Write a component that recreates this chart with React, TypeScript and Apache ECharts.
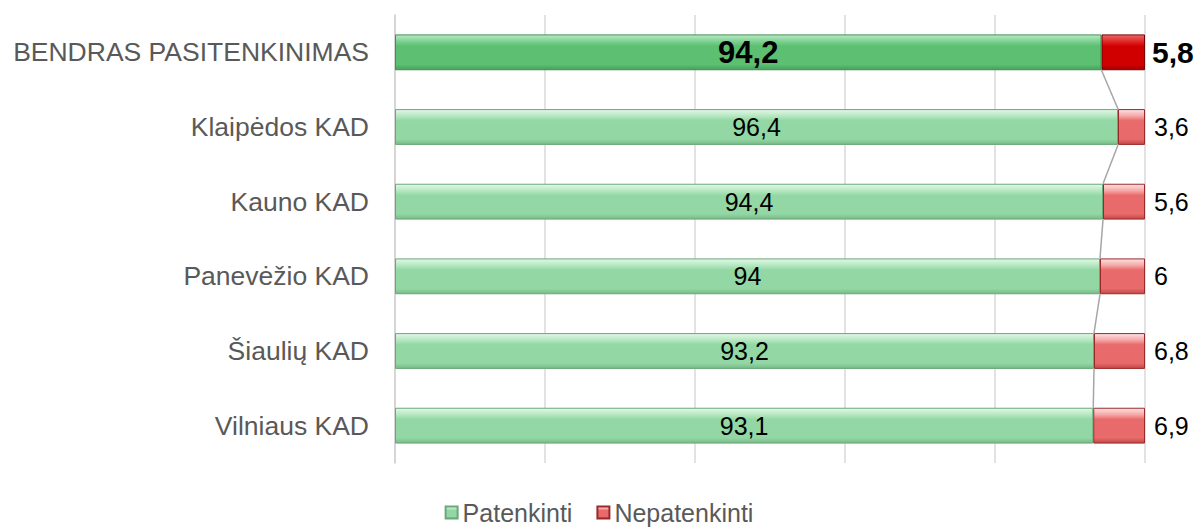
import React, { useEffect, useRef } from "react";
import * as echarts from "echarts";

const categories = [
  "BENDRAS PASITENKINIMAS",
  "Klaipėdos KAD",
  "Kauno KAD",
  "Panevėžio KAD",
  "Šiaulių KAD",
  "Vilniaus KAD",
];
const satisfied = [94.2, 96.4, 94.4, 94, 93.2, 93.1];
const unsatisfied = [5.8, 3.6, 5.6, 6, 6.8, 6.9];
const seriesNames = ["Patenkinti", "Nepatenkinti"];
const xTicks = [0, 20, 40, 60, 80, 100];

const FONT = "'Liberation Sans', Arial, sans-serif";
const BAR_RATIO = 0.48;

const grad = (top: string, light: string, body: string, bottom: string) =>
  new echarts.graphic.LinearGradient(0, 0, 0, 1, [
    { offset: 0, color: top },
    { offset: 0.18, color: light },
    { offset: 0.32, color: body },
    { offset: 0.85, color: body },
    { offset: 1, color: bottom },
  ]);

const fmt = (v: number) => String(v).replace(".", ",");

export default function App() {
  const ref = useRef<HTMLDivElement>(null);
  useEffect(() => {
    if (!ref.current) return;
    const chart = echarts.init(ref.current, undefined, { renderer: "svg" });

    const greenLight = grad("#e2f8e6", "#b6e8c2", "#93d8a4", "#78b988");
    const greenDark = grad("#b9ebc4", "#7fd293", "#5cbf72", "#46a05c");
    const redLight = grad("#fde2e2", "#f5a9a9", "#e86a6a", "#c24848");
    const redDark = grad("#f06868", "#e02a2a", "#d10000", "#a00000");

    const greenData = satisfied.map((v, i) => ({
      value: v,
      itemStyle: i === 0 ? { color: greenDark, borderColor: "#3f8f52" } : undefined,
      label:
        i === 0
          ? { fontWeight: "bold" as const, fontSize: 31 }
          : undefined,
    }));
    const redData = unsatisfied.map((v, i) => ({
      value: v,
      itemStyle: i === 0 ? { color: redDark, borderColor: "#7a0000" } : undefined,
      label:
        i === 0
          ? { fontWeight: "bold" as const, fontSize: 30, distance: 7 }
          : undefined,
    }));

    const lineData = satisfied.slice(0, -1).map((v, i) => [v, i, satisfied[i + 1], i + 1]);

    chart.setOption({
      animation: false,
      textStyle: { fontFamily: FONT },
      grid: { left: 395, right: 53, top: 15, bottom: 64, containLabel: false },
      legend: {
        bottom: -3,
        left: "center",
        data: seriesNames,
        icon: "rect",
        itemWidth: 12,
        itemHeight: 12,
        itemGap: 24,
        textStyle: { color: "#595959", fontSize: 25, fontFamily: FONT },
      },
      xAxis: {
        type: "value",
        min: xTicks[0],
        max: xTicks[xTicks.length - 1],
        interval: xTicks[1] - xTicks[0],
        axisLabel: { show: false },
        axisLine: { show: false },
        axisTick: { show: false },
        splitLine: { lineStyle: { color: "#d9d9d9", width: 1.5 } },
      },
      yAxis: {
        type: "category",
        data: categories,
        inverse: true,
        axisLine: { show: true, lineStyle: { color: "#d0d0d0", width: 1.5 } },
        axisTick: { show: false },
        axisLabel: {
          color: "#595959",
          fontSize: 26.5,
          fontFamily: FONT,
          margin: 26,
        },
      },
      series: [
        {
          name: seriesNames[0],
          type: "bar",
          stack: "total",
          barWidth: `${BAR_RATIO * 100}%`,
          data: greenData,
          itemStyle: { color: greenLight, borderColor: "#6aa87a", borderWidth: 1 },
          label: {
            show: true,
            position: "inside",
            color: "#000",
            fontSize: 25,
            fontFamily: FONT,
            formatter: (p: any) => fmt(p.value),
          },
          z: 3,
        },
        {
          name: seriesNames[1],
          type: "bar",
          stack: "total",
          barWidth: `${BAR_RATIO * 100}%`,
          data: redData,
          itemStyle: { color: redLight, borderColor: "#9a2a2a", borderWidth: 1 },
          label: {
            show: true,
            position: "right",
            distance: 9,
            color: "#000",
            fontSize: 25,
            fontFamily: FONT,
            formatter: (p: any) => fmt(p.value),
          },
          z: 3,
        },
        {
          type: "custom",
          name: "lines",
          silent: true,
          z: 2,
          encode: { x: [0, 2], y: [1, 3] },
          data: lineData,
          renderItem: (params: any, api: any) => {
            const a = api.coord([api.value(0), api.value(1)]);
            const b = api.coord([api.value(2), api.value(3)]);
            const half = (api.size([0, 1])[1] * BAR_RATIO) / 2;
            return {
              type: "line",
              shape: { x1: a[0], y1: a[1] + half, x2: b[0], y2: b[1] - half },
              style: { stroke: "#a6a6a6", lineWidth: 1.5 },
            };
          },
        },
      ],
    });
    return () => chart.dispose();
  }, []);

  return <div ref={ref} style={{ width: 1198, height: 527, position: "absolute", left: 0, top: 0 }} />;
}
